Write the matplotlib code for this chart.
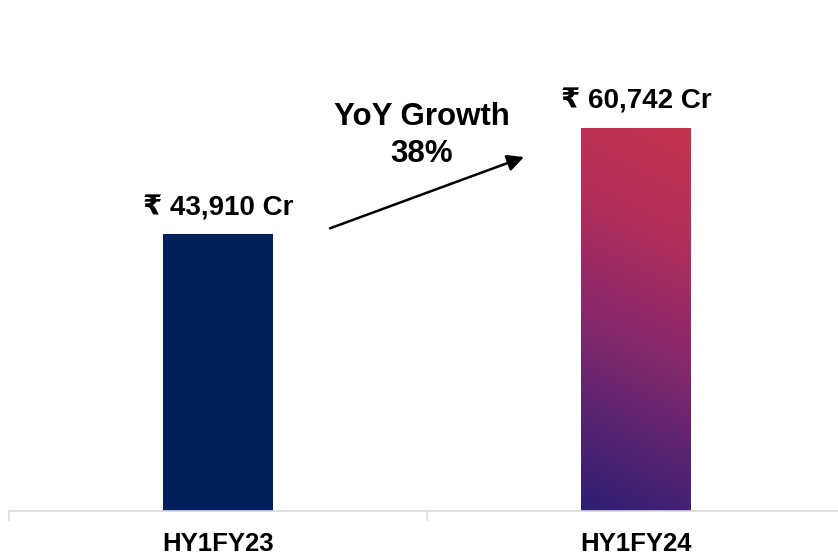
import numpy as np
import matplotlib
matplotlib.use("Agg")
import matplotlib.pyplot as plt
from matplotlib.colors import LinearSegmentedColormap

categories = ["HY1FY23", "HY1FY24"]
values = [43910, 60742]
value_labels = ["₹ 43,910 Cr", "₹ 60,742 Cr"]
growth_label = "YoY Growth\n38%"

FONT = ["Liberation Sans", "DejaVu Sans"]
plt.rcParams["font.family"] = FONT

W, H, DPI = 838, 559, 100
fig = plt.figure(figsize=(W / DPI, H / DPI), dpi=DPI)
# axes spans x = -0.5 .. 1.5 in data coords
left_px, right_px = 9, 845
base_px = 48
ax = fig.add_axes([left_px / W, base_px / H, (right_px - left_px) / W, 0.86 - base_px / H])
ymax = (0.86 * H - base_px) / 0.00631
ax.set_xlim(-0.5, 1.5)
ax.set_ylim(0, ymax)

x = np.arange(len(categories))
bw = 0.263
bars = ax.bar(x, values, width=bw, color=["#00205B", "none"], edgecolor="none", zorder=2)

# gradient fill for second bar
cmap = LinearSegmentedColormap.from_list(
    "grad", [(0, "#2E1F74"), (0.25, "#5C2471"), (0.5, "#8E296A"), (0.75, "#B22F5A"), (1, "#C4324F")])
ny, nx = 200, 50
yy, xx = np.mgrid[0:1:ny * 1j, 0:1:nx * 1j]
t = np.clip(yy * 0.9 + xx * 0.12, 0, 1)
b = bars[1]
im = ax.imshow(t, cmap=cmap, origin="lower", aspect="auto",
               extent=[b.get_x(), b.get_x() + b.get_width(), 0, b.get_height()], zorder=2,
               vmin=0, vmax=1, interpolation="bilinear")
im.set_clip_path(b)
ax.set_xlim(-0.5, 1.5)
ax.set_ylim(0, ymax)

for xi, v, lab in zip(x, values, value_labels):
    ax.annotate(lab, (xi, v), xytext=(0, 13.5), textcoords="offset points",
                ha="center", va="baseline", fontsize=20, fontweight="bold", family=FONT)

ax.text(0.487, 59450, growth_label, ha="center", va="center", fontsize=22.5,
        fontweight="bold", linespacing=1.3, family=FONT)
ax.annotate("", xy=(0.732, 56100), xytext=(0.268, 44800),
            arrowprops=dict(arrowstyle="-|>,head_length=1.0,head_width=0.5", color="black", lw=1.8,
                            shrinkA=0, shrinkB=0))

for s in ["top", "right", "left"]:
    ax.spines[s].set_visible(False)
ax.spines["bottom"].set_color("#D9D9D9")
ax.spines["bottom"].set_linewidth(1.2)
ax.set_yticks([])
ax.set_xticks(x)
ax.set_xticklabels(categories, fontsize=18.5, fontweight="bold")
ax.tick_params(axis="x", which="major", length=0, pad=15)
ax.set_xticks([-0.5, 0.5, 1.5], minor=True)
ax.tick_params(axis="x", which="minor", length=7, width=1.2, color="#D9D9D9")

fig.savefig("out.png", dpi=DPI)
